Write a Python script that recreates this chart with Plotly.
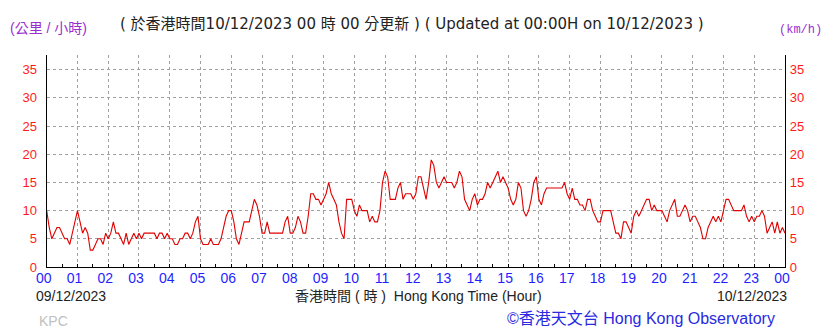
import plotly.graph_objects as go

# 5-minute mean wind speed (km/h), 09/12/2023 00:00 -> 10/12/2023 00:00
wind_kmh = [
    10, 7, 5, 6, 7, 7, 6, 5, 5, 4, 6, 8,          # 00
    10, 8, 6, 7, 6, 3, 3, 4, 5, 5, 4, 6,          # 01
    5, 6, 8, 6, 6, 5, 4, 6, 4, 5, 6, 5,           # 02
    6, 5, 6, 6, 6, 6, 6, 5, 6, 6, 5, 6,           # 03
    5, 5, 4, 4, 5, 5, 6, 6, 5, 6, 8, 9,           # 04
    5, 4, 4, 4, 5, 4, 4, 4, 5, 7, 9, 10,          # 05
    10, 8, 5, 4, 6, 8, 8, 8, 10, 12, 11, 9,       # 06
    6, 6, 8, 6, 6, 6, 6, 6, 6, 8, 9, 6,           # 07
    6, 7, 9, 8, 6, 6, 9, 13, 13, 12, 12, 11,      # 08
    12, 13, 15, 13, 12, 11, 8, 6, 5, 12, 12, 12,  # 09
    10, 9, 11, 10, 10, 10, 8, 9, 8, 8, 10, 15,    # 10
    17, 16, 12, 12, 12, 14, 15, 12, 13, 13, 13, 12,  # 11
    13, 16, 16, 14, 12, 15, 19, 18, 15, 14, 15, 16,  # 12
    15, 15, 15, 14, 15, 17, 16, 12, 11, 10, 12, 13,  # 13
    11, 12, 12, 13, 15, 14, 15, 16, 17, 15, 16, 15,  # 14
    14, 12, 11, 12, 15, 14, 10, 9, 10, 12, 15, 16,   # 15
    12, 11, 13, 14, 14, 14, 14, 14, 14, 14, 15, 13,  # 16
    12, 14, 12, 12, 11, 11, 10, 12, 12, 10, 9, 8,    # 17
    8, 10, 10, 10, 10, 8, 6, 6, 5, 8, 8, 7,          # 18
    6, 9, 10, 9, 10, 11, 12, 12, 10, 11, 10, 10,     # 19
    10, 9, 8, 10, 11, 12, 9, 9, 10, 11, 10, 8,       # 20
    9, 9, 8, 7, 5, 5, 7, 8, 9, 8, 9, 8,              # 21
    10, 12, 12, 11, 10, 10, 10, 10, 11, 9, 8, 9,     # 22
    8, 9, 9, 10, 9, 6, 7, 8, 6, 8, 6, 7,             # 23
    6,                                               # 00 next day
]
minutes = [5 * i for i in range(len(wind_kmh))]
hours = [m / 60 for m in minutes]

x_tickvals = list(range(0, 25))
x_ticktext = [f"{h % 24:02d}" for h in x_tickvals]
y_tickvals = [0, 5, 10, 15, 20, 25, 30, 35]

W, H = 837, 331
L, R, T, B = 46.7, 785.0, 55.0, 267.0
Y_MAX = 37.6

fig = go.Figure()
fig.add_trace(go.Scatter(
    x=hours, y=wind_kmh, mode="lines",
    line=dict(color="#e00000", width=1.1),
    hoverinfo="skip", showlegend=False,
))
# invisible trace to activate right axis
fig.add_trace(go.Scatter(x=[0], y=[0], yaxis="y2", mode="markers",
                         marker=dict(opacity=0), showlegend=False, hoverinfo="skip"))

sans = "Liberation Sans, Arial, Noto Sans CJK TC, sans-serif"
wide = "DejaVu Sans, Noto Sans CJK TC, sans-serif"

fig.update_layout(
    width=W, height=H,
    margin=dict(l=0, r=0, t=0, b=0, autoexpand=False),
    paper_bgcolor="white", plot_bgcolor="white",
    xaxis=dict(
        domain=[L / W, R / W], range=[0, 24], fixedrange=True,
        tickmode="array", tickvals=x_tickvals, ticktext=x_ticktext,
        tickfont=dict(family=sans, size=14, color="#1f1fff"),
        ticks="", ticklen=0, ticklabelstandoff=-2, ticklabelshift=-3,
        showgrid=True, gridcolor="#a0a0a0", griddash="dot", gridwidth=1,
        showline=True, linecolor="black", linewidth=1.2,
        zeroline=False, automargin=False,
        minor=dict(dtick=0.5, tick0=0, ticks="inside", ticklen=3,
                   tickcolor="black", showgrid=False),
    ),
    yaxis=dict(
        domain=[1 - B / H, 1 - T / H], range=[0, Y_MAX], fixedrange=True,
        tickmode="array", tickvals=y_tickvals,
        tickfont=dict(family=sans, size=13, color="#ff1a1a"),
        ticks="", showgrid=True, gridcolor="#a0a0a0", griddash="dot", gridwidth=1,
        showline=True, linecolor="black", linewidth=1.2, zeroline=False,
        ticklabelstandoff=6, automargin=False,
    ),
    yaxis2=dict(
        overlaying="y", side="right", range=[0, Y_MAX], fixedrange=True,
        tickmode="array", tickvals=y_tickvals,
        tickfont=dict(family=sans, size=13, color="#ff1a1a"),
        ticks="", showgrid=False,
        showline=True, linecolor="black", linewidth=1.2, zeroline=False,
        ticklabelstandoff=1, automargin=False,
    ),
)

def px(x):
    return x / W

def py(y):
    return 1 - y / H

annos = [
    dict(text="(公里 / 小時)", x=px(8), y=py(28), xanchor="left", yanchor="middle",
         font=dict(family=sans, size=14, color="#9b30d0")),
    dict(text="( 於香港時間10/12/2023 00 時 00 分更新 ) ( Updated at 00:00H on 10/12/2023 )",
         x=px(412), y=py(24), xanchor="center", yanchor="middle",
         font=dict(family=wide, size=15, color="#222222")),
    dict(text="(km/h)", x=px(777), y=py(30), xanchor="left", yanchor="middle",
         font=dict(family="Liberation Mono, DejaVu Sans Mono, monospace", size=12, color="#9b30d0")),
    dict(text="09/12/2023", x=px(34), y=py(296), xanchor="left", yanchor="middle",
         font=dict(family=sans, size=14, color="#222222")),
    dict(text="香港時間 ( 時 )  Hong Kong Time (Hour)", x=px(418), y=py(296),
         xanchor="center", yanchor="middle",
         font=dict(family=sans, size=14, color="#222222")),
    dict(text="10/12/2023", x=px(789), y=py(296), xanchor="right", yanchor="middle",
         font=dict(family=sans, size=14, color="#222222")),
    dict(text="KPC", x=px(37), y=py(321), xanchor="left", yanchor="middle",
         font=dict(family=sans, size=14, color="#c0c0c0")),
    dict(text="©香港天文台 Hong Kong Observatory", x=px(777), y=py(318),
         xanchor="right", yanchor="middle",
         font=dict(family=sans, size=16, color="#2a2ae0")),
]
for a in annos:
    a.update(xref="paper", yref="paper", showarrow=False)
fig.update_layout(annotations=annos)

fig.write_html("out.html")
